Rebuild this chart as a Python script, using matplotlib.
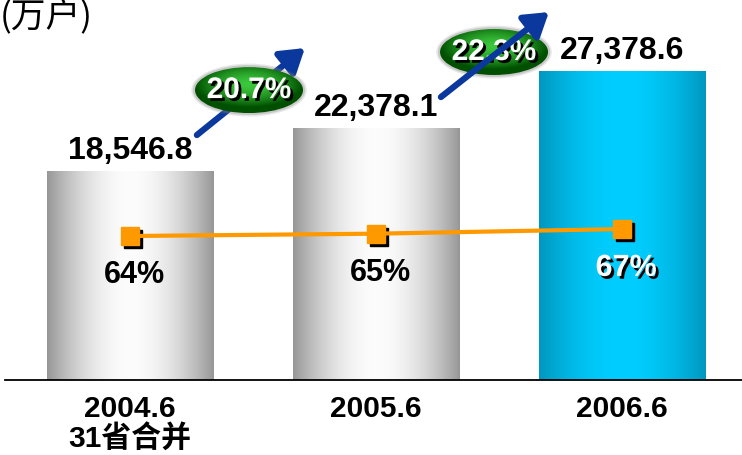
import numpy as np
import matplotlib
matplotlib.use('Agg')
import matplotlib.pyplot as plt
from matplotlib.patches import Ellipse, FancyArrowPatch
import matplotlib.patheffects as pe
from matplotlib.transforms import offset_copy

# ---- data ----
categories = ["2004.6\n31省合并", "2005.6", "2006.6"]
households = [18546.8, 22378.1, 27378.6]      # 万户
share_pct = [64, 65, 67]
share_labels = ["64%", "65%", "67%"]
growth_labels = ["20.7%", "22.3%"]
unit_label = "(万户)"

plt.rcParams['font.family'] = ['Liberation Sans', 'Noto Sans CJK SC']

W, H = 742, 455
fig = plt.figure(figsize=(W / 100, H / 100), dpi=100)
ax = fig.add_axes([5 / W, 75 / H, 737 / W, 380 / H])
ax.patch.set_alpha(0)
x = np.arange(len(categories))
bw = 0.675


def hgrad(edge, center, n=256):
    t = np.linspace(0, 1, n)
    f = np.sin(np.pi * t) ** 0.9
    e = np.array(edge) / 255.0
    c = np.array(center) / 255.0
    arr = e[None, :] + (c - e)[None, :] * f[:, None]
    return arr[None, :, :]


gray = hgrad((150, 150, 150), (252, 252, 252))
cyan = hgrad((0, 150, 190), (0, 206, 255))
for i, v in enumerate(households):
    g = cyan if i == len(households) - 1 else gray
    ax.imshow(g, extent=(x[i] - bw / 2, x[i] + bw / 2, 0, v), aspect='auto',
              zorder=2, interpolation='bilinear')
    ax.annotate(f"{v:,.1f}", (x[i], v), xytext=(0, 9), textcoords='offset points',
                ha='center', va='baseline', fontsize=23, fontweight='bold', zorder=6)

ax.set_xlim(-0.508, 2.488)
ax.set_ylim(0, 33750)
for s in ['top', 'left', 'right']:
    ax.spines[s].set_visible(False)
ax.spines['bottom'].set_linewidth(1.3)
ax.set_yticks([])
ax.set_xticks(x)
ax.set_xticklabels(categories, fontsize=21.5, fontweight='bold', linespacing=1.05)
ax.tick_params(axis='x', length=0, pad=11)

# ---- growth arrows and ellipses (decoration) ----
arrow_pts = [((0.272, 21756), (0.711, 29482)), ((1.264, 25130), (1.703, 32678))]
ell_pos = [(0.484, 25750), (1.480, 29130)]
ew, eh = 0.439, 4080
arrow_z = [4, 8]
for k, lbl in enumerate(growth_labels):
    cx, cy = ell_pos[k]
    for sc, a in [(1.07, 0.18), (1.04, 0.3)]:
        halo = Ellipse((cx, cy), ew * sc, eh * (1 + (sc - 1) * 2.2), fc='#808080',
                       ec='none', alpha=a, zorder=5)
        ax.add_patch(halo)
    clip = Ellipse((cx, cy), ew, eh, fc='none', ec='none', zorder=5, transform=ax.transData)
    ax.add_patch(clip)
    yy, xx = np.mgrid[-1:1:120j, -1:1:200j]
    r = np.clip(np.sqrt(xx ** 2 + (yy + 0.25) ** 2), 0, 1)
    dark = np.array([0, 80, 0]) / 255
    bright = np.array([60, 200, 60]) / 255
    img = bright[None, None, :] + (dark - bright)[None, None, :] * (r[:, :, None] ** 1.6)
    im = ax.imshow(img, extent=(cx - ew / 2, cx + ew / 2, cy - eh / 2, cy + eh / 2),
                   aspect='auto', zorder=5.5, interpolation='bilinear')
    im.set_clip_path(clip)
    ax.text(cx, cy, lbl, ha='center', va='center', fontsize=21.5, fontweight='bold',
            color='white', zorder=7,
            path_effects=[pe.SimplePatchShadow(offset=(2, -2), shadow_rgbFace='black', alpha=1.0),
                          pe.Normal()])
    (ax0, ay0), (ax1, ay1) = arrow_pts[k]
    arr = FancyArrowPatch((ax0, ay0), (ax1, ay1),
                          arrowstyle='-|>,head_length=0.7,head_width=0.45',
                          mutation_scale=20, lw=4.5, color='#0a389c',
                          shrinkA=0, shrinkB=0, zorder=arrow_z[k])
    ax.add_patch(arr)

# ---- share line ----
ax2 = ax.twinx()
ax2.set_ylim(2.2, 165.3)
ax2.set_yticks([])
for s in ax2.spines.values():
    s.set_visible(False)
shadow_tr = offset_copy(ax2.transData, fig=fig, x=3, y=-3, units='dots')
ax2.plot(x, share_pct, ls='none', marker='s', ms=13, color='black',
         transform=shadow_tr, zorder=3)
ax2.plot(x, share_pct, color='#ff9900', lw=3, marker='s', ms=13,
         mec='#ff9900', mfc='#ff9900', zorder=4)
for i, lbl in enumerate(share_labels):
    col = 'white' if i == len(share_labels) - 1 else 'black'
    effects = [pe.SimplePatchShadow(offset=(2, -2), shadow_rgbFace='black', alpha=1.0),
               pe.Normal()] if col == 'white' else []
    ax2.annotate(lbl, (x[i], share_pct[i]), xytext=(3, -28), textcoords='offset points',
                 ha='center', va='center', fontsize=22, fontweight='bold', color=col,
                 path_effects=effects, zorder=6)

fig.text(0, 1 - 17 / H, unit_label, fontsize=25, family=['Noto Sans CJK SC'],
         va='center', ha='left')

fig.savefig('out.png', dpi=100)
